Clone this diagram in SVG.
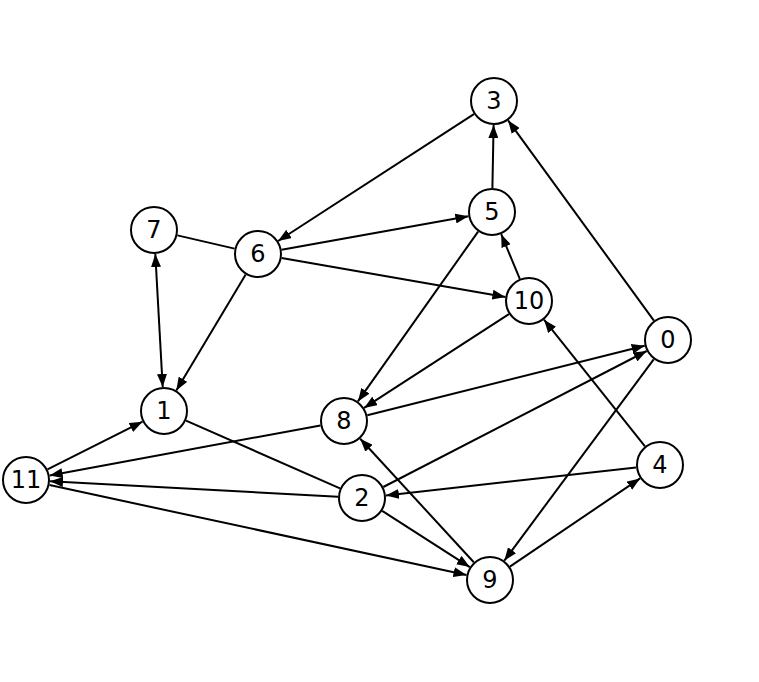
<svg xmlns="http://www.w3.org/2000/svg" width="759" height="682" viewBox="0 0 759 682">
<style>
.e{stroke:#000;stroke-width:2;fill:none}
.a{marker-end:url(#ah)}
circle{fill:#fff;stroke:#000;stroke-width:2}
text{font-family:"DejaVu Sans",sans-serif;font-size:24px;text-anchor:middle;dominant-baseline:central;fill:#000}
</style>
<defs><marker id="ah" markerUnits="userSpaceOnUse" markerWidth="14" markerHeight="10" refX="13" refY="5" orient="auto-start-reverse"><path d="M0,0 L13,5 L0,10 z" fill="#000"/></marker></defs>
<rect width="759" height="682" fill="#fff"/>
<g id="edges">
<line class="e a" x1="473.9" y1="114.1" x2="278.1" y2="241.0"/>
<line class="e a" x1="281.6" y1="249.8" x2="468.4" y2="216.2"/>
<line class="e a" x1="281.6" y1="258.1" x2="505.4" y2="296.9"/>
<line class="e a" x1="245.7" y1="274.6" x2="176.3" y2="390.4"/>
<line class="e a" x1="155.3" y1="254.0" x2="162.7" y2="387.0" marker-start="url(#ah)"/>
<line class="e a" x1="492.4" y1="188" x2="493.6" y2="125"/>
<line class="e a" x1="478.1" y1="231.6" x2="357.9" y2="401.4"/>
<line class="e a" x1="519.8" y1="278.8" x2="501.2" y2="234.2"/>
<line class="e a" x1="508.9" y1="314.1" x2="364.1" y2="407.9"/>
<line class="e a" x1="653.9" y1="320.6" x2="508.1" y2="120.4"/>
<line class="e a" x1="653.7" y1="359.3" x2="504.3" y2="560.7"/>
<line class="e a" x1="645.0" y1="446.3" x2="544.0" y2="319.7"/>
<line class="e a" x1="636.1" y1="467.6" x2="385.9" y2="495.4"/>
<line class="e a" x1="509.9" y1="566.6" x2="640.1" y2="478.4"/>
<line class="e a" x1="367.3" y1="415.2" x2="644.7" y2="345.8"/>
<line class="e a" x1="320.4" y1="425.4" x2="49.6" y2="475.6"/>
<line class="e a" x1="383.3" y1="487.0" x2="646.7" y2="351.0"/>
<line class="e a" x1="338.0" y1="496.7" x2="50.0" y2="481.3"/>
<line class="e a" x1="382.2" y1="510.9" x2="469.8" y2="567.1"/>
<line class="e" x1="186.0" y1="420.7" x2="340.0" y2="488.3"/>
<line class="e a" x1="47.5" y1="469.3" x2="142.5" y2="421.7"/>
<line class="e a" x1="49.5" y1="485.1" x2="466.5" y2="574.9"/>
<line class="e a" x1="473.8" y1="562.3" x2="360.2" y2="438.7"/>
<line class="e" x1="177.4" y1="235.4" x2="234.6" y2="248.6"/>
</g>
<g id="n0"><circle cx="668" cy="340" r="23"/><text x="668" y="340">0</text></g>
<g id="n1"><circle cx="164" cy="411" r="23"/><text x="164" y="411">1</text></g>
<g id="n2"><circle cx="362" cy="498" r="23"/><text x="362" y="498">2</text></g>
<g id="n3"><circle cx="494" cy="101" r="23"/><text x="494" y="101">3</text></g>
<g id="n4"><circle cx="660" cy="465" r="23"/><text x="660" y="465">4</text></g>
<g id="n5"><circle cx="492" cy="212" r="23"/><text x="492" y="212">5</text></g>
<g id="n6"><circle cx="258" cy="254" r="23"/><text x="258" y="254">6</text></g>
<g id="n7"><circle cx="154" cy="230" r="23"/><text x="154" y="230">7</text></g>
<g id="n8"><circle cx="344" cy="421" r="23"/><text x="344" y="421">8</text></g>
<g id="n9"><circle cx="490" cy="580" r="23"/><text x="490" y="580">9</text></g>
<g id="n10"><circle cx="529" cy="301" r="23"/><text x="529" y="301">10</text></g>
<g id="n11"><circle cx="26" cy="480" r="23"/><text x="26" y="480">11</text></g>
</svg>
